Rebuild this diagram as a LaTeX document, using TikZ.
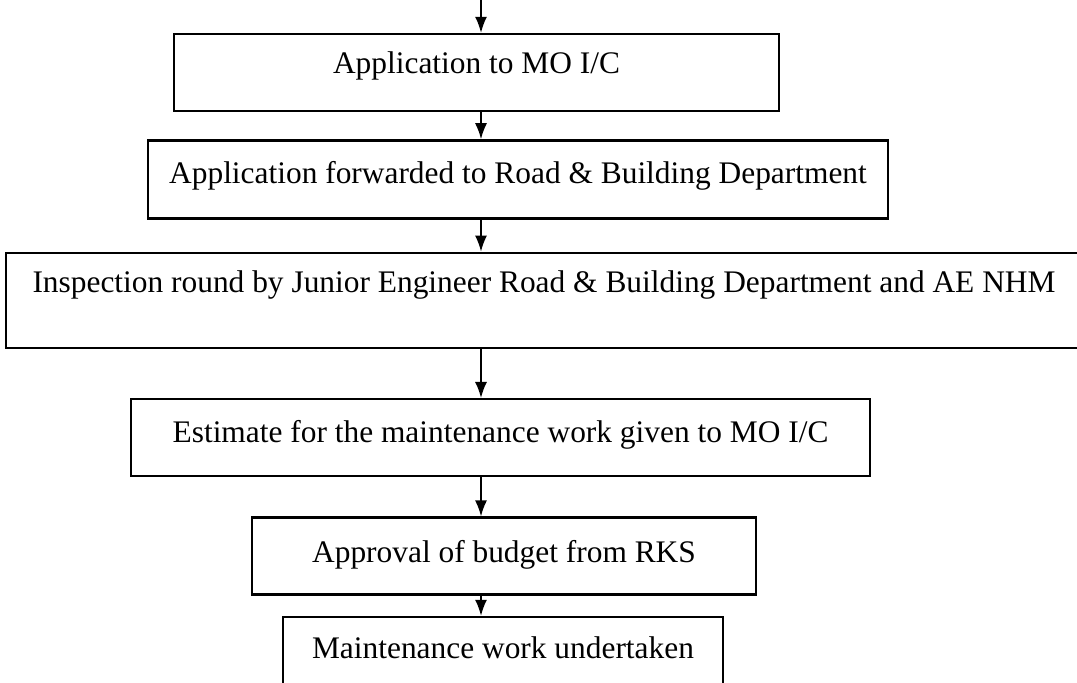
\documentclass[tikz,border=0pt]{standalone}
\usepackage{fontspec}
\setmainfont{Liberation Serif}
\usetikzlibrary{arrows.meta, positioning}
\tikzset{
	every node/.style={
		align=center,
	},
	flowbox/.style={
		draw, rectangle, line width=1.2pt,
		font=\fontsize{15.7}{19}\selectfont,
		text height=11pt, text depth=3.5pt,
	},
	flowarrow/.style={
		line width=0.8pt, -{Latex[length=8pt,width=6pt]},
	},
}

\begin{document}
\begin{tikzpicture}[x=0.5pt, y=-0.5pt]
    \useasboundingbox (0,0) rectangle (1077,683);
    \coordinate (start) at (481,0);

    \node[flowbox, minimum width=302.5pt, minimum height=38.5pt, text depth=10pt] (apply) at (476.5,72.5) {Application to MO I/C};
    \node[flowbox, below=13.5pt of apply, xshift=20.75pt, minimum width=370pt, minimum height=39pt, text depth=7pt] (forward) {Application forwarded to Road \& Building Department};
    \node[flowbox, below=16pt of forward, xshift=13pt, minimum width=538pt, minimum height=47.5pt, text depth=19pt] (inspect) {Inspection round by Junior Engineer Road \& Building Department and AE NHM};
    \node[flowbox, below=24.5pt of inspect, xshift=-21.75pt, minimum width=369.5pt, minimum height=38.5pt, text depth=6pt] (estimate) {Estimate for the maintenance work given to MO I/C};
    \node[flowbox, below=19.5pt of estimate, xshift=1.75pt, minimum width=252pt, minimum height=38.5pt, text depth=5pt] (budget) {Approval of budget from RKS};
    \node[flowbox, below=10pt of budget, xshift=-0.5pt, minimum width=220pt, minimum height=38pt, text depth=7pt] (work) {Maintenance work undertaken};

    \draw[flowarrow] (start) -- (apply.north -| start);
    \draw[flowarrow] (apply.south -| start) -- (forward.north -| start);
    \draw[flowarrow] (forward.south -| start) -- (inspect.north -| start);
    \draw[flowarrow] (inspect.south -| start) -- (estimate.north -| start);
    \draw[flowarrow] (estimate.south -| start) -- (budget.north -| start);
    \draw[flowarrow] (budget.south -| start) -- (work.north -| start);
\end{tikzpicture}
\end{document}
